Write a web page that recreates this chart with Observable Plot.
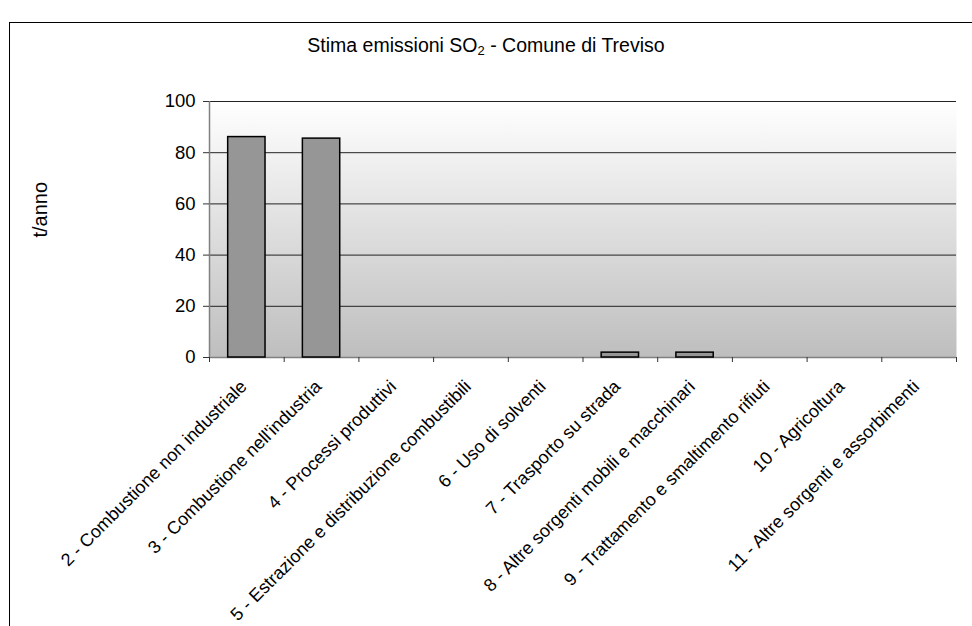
<!DOCTYPE html>
<html>
<head>
<meta charset="utf-8">
<script src="https://cdn.jsdelivr.net/npm/d3@7"></script>
<script src="https://cdn.jsdelivr.net/npm/@observablehq/plot@0.6"></script>
<style>
  html, body { margin: 0; padding: 0; background: #fff; }
  #wrap { position: relative; width: 972px; height: 626px; overflow: hidden; font-family: "Liberation Sans", Arial, sans-serif; }
  #border { position: absolute; left: 9px; top: 22px; width: 980px; height: 700px; border-left: 1.5px solid #000; border-top: 1.5px solid #000; box-sizing: border-box; }
  #title { position: absolute; left: 0; width: 972px; top: 34px; text-align: center; font-size: 19.5px; color: #000; }
  #title sub { font-size: 13px; vertical-align: -3px; line-height: 0; }
  #chart { position: absolute; left: 0; top: 0; }
</style>
</head>
<body>
<div id="wrap">
  <div id="border"></div>
  <div id="title">Stima emissioni SO<sub>2</sub> - Comune di Treviso</div>
  <div id="chart"></div>
</div>
<script>
const categories = [
  "2 - Combustione non industriale",
  "3 - Combustione nell'industria",
  "4 - Processi produttivi",
  "5 - Estrazione e distribuzione combustibili",
  "6 - Uso di solventi",
  "7 - Trasporto su strada",
  "8 - Altre sorgenti mobili e macchinari",
  "9 - Trattamento e smaltimento rifiuti",
  "10 - Agricoltura",
  "11 - Altre sorgenti e assorbimenti"
];
const values = [86.1, 85.5, 0, 0, 0, 1.9, 1.9, 0, 0, 0];
const yTicks = [0, 20, 40, 60, 80, 100];
const gridValues = [20, 40, 60, 80, 100];
const yLabel = "t/anno";

const data = categories.map((c, i) => ({i, category: c, value: values[i]}));
const boundaries = d3.range(categories.length + 1);

const defs = () => {
  const g = d3.create("svg:defs");
  const lg = g.append("linearGradient").attr("id", "bg").attr("x1", 0).attr("y1", 0).attr("x2", 0).attr("y2", 1);
  lg.append("stop").attr("offset", "0%").attr("stop-color", "#ffffff");
  lg.append("stop").attr("offset", "100%").attr("stop-color", "#bebebe");
  return g.node();
};

const chart = Plot.plot({
  width: 972,
  height: 626,
  marginTop: 101,
  marginBottom: 269,
  marginLeft: 209,
  marginRight: 16,
  style: {fontFamily: "'Liberation Sans', Arial, sans-serif", fontSize: "18px", color: "#000", background: "transparent", overflow: "visible"},
  x: {type: "linear", domain: [0, categories.length], axis: null},
  y: {domain: [0, 100], axis: null},
  marks: [
    defs,
    Plot.frame({fill: "url(#bg)", stroke: "none"}),
    Plot.ruleY(gridValues, {stroke: "#222", strokeWidth: 1}),
    Plot.ruleX([0], {stroke: "#808080", strokeWidth: 1.5}),
    Plot.ruleY([0], {stroke: "#808080", strokeWidth: 1.5}),
    Plot.axisY({ticks: yTicks, tickSize: 6, tickPadding: 8, fontSize: 18.5, label: null, stroke: "#333"}),
    Plot.axisX({ticks: boundaries, tickSize: 5, tickFormat: () => "", label: null, stroke: "#333"}),
    Plot.rectY(data.filter(d => d.value > 0), {x1: d => d.i + 0.25, x2: d => d.i + 0.75, y1: 0, y2: "value", fill: "#969696", stroke: "#000", strokeWidth: 1.5}),
    Plot.text(data, {x: d => d.i + 0.5, text: "category", frameAnchor: "bottom", rotate: -45, textAnchor: "end", lineAnchor: "middle", dy: 26, dx: -3, fontSize: 18, fill: "#000"}),
    Plot.text([yLabel], {text: d => d, frameAnchor: "left", rotate: -90, dx: -169, dy: 8, fontSize: 20, fill: "#000"})
  ]
});
document.getElementById("chart").appendChild(chart);
</script>
</body>
</html>
